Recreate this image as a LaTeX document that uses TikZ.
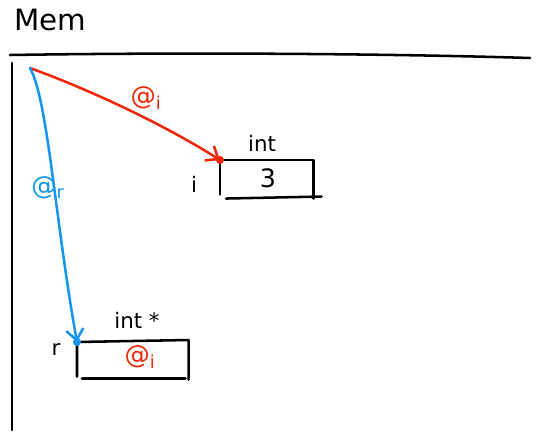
\documentclass[tikz,border=0pt]{standalone}
\usepackage{fontspec}
\setmainfont{DejaVu Sans}
\usetikzlibrary{arrows.meta}
\definecolor{ptrred}{RGB}{240,40,10}
\definecolor{ptrblue}{RGB}{20,150,240}
\begin{document}
\begin{tikzpicture}[x=0.75pt,y=-0.75pt,
  ink/.style={line width=1.9pt,line cap=round,line join=round},
  cell/.style={minimum height=34*0.75pt,inner sep=0pt,anchor=north west},
  lbl/.style={font=\fontsize{16}{18}\selectfont,inner sep=0pt},
  big/.style={font=\fontsize{19}{21}\selectfont,inner sep=0pt},
  tip/.style={-{Straight Barb[length=8pt,width=13pt,line width=1.9pt]}}]
\useasboundingbox[fill=white] (0,0) rectangle (541,439);

% title and memory frame
\node[inner sep=0pt,font=\fontsize{22}{24}\selectfont] (title) at (50,20) {Mem};
\draw[ink] (10,55) .. controls (200,52) and (400,54) .. (530,58);
\draw[ink] (12,63) -- (12,430);

% variable i : int
\node[cell,minimum width=93*0.75pt] (boxi) at (220,160) {};
\draw[ink] (boxi.south west) -- (boxi.north west) -- (boxi.north east) -- ([yshift=-4*0.75pt]boxi.south east);
\draw[ink] ([xshift=6*0.75pt,yshift=-4*0.75pt]boxi.south west) -- ([xshift=8*0.75pt,yshift=-2*0.75pt]boxi.south east);
\node[big] (vali) at (268,178) {3};
\node[lbl] (typei) at (262,143) {int};
\node[lbl] (namei) at (194,184) {i};

% variable r : int *
\node[cell,minimum width=111*0.75pt] (boxr) at (77,342) {};
\draw[ink] (boxr.south west) -- (boxr.north west) -- ([yshift=2*0.75pt]boxr.north east) -- ([yshift=-3*0.75pt]boxr.south east);
\draw[ink] ([xshift=5*0.75pt,yshift=-2*0.75pt]boxr.south west) -- ([xshift=-3*0.75pt,yshift=-2*0.75pt]boxr.south east);
\node[big,text=ptrred] (valr) at (140,357) {@\textsubscript{i}};
\node[lbl] (typer) at (137,320) {int *};
\node[lbl] (namer) at (56,350) {r};

% addresses
\coordinate (origin) at (30,68);
\draw[ink,ptrred,tip] (origin) .. controls (85,88) and (160,122) .. (boxi.north west);
\fill[ptrred] (boxi.north west) circle (4);
\node[big,text=ptrred] (addri) at (146,98) {@\textsubscript{i}};

\draw[ink,ptrblue,tip] (origin) .. controls (48,100) and (55,220) .. (boxr.north west);
\fill[ptrblue] (boxr.north west) circle (4);
\node[big,text=ptrblue] (addrr) at (48,188) {@\textsubscript{r}};
\end{tikzpicture}
\end{document}
